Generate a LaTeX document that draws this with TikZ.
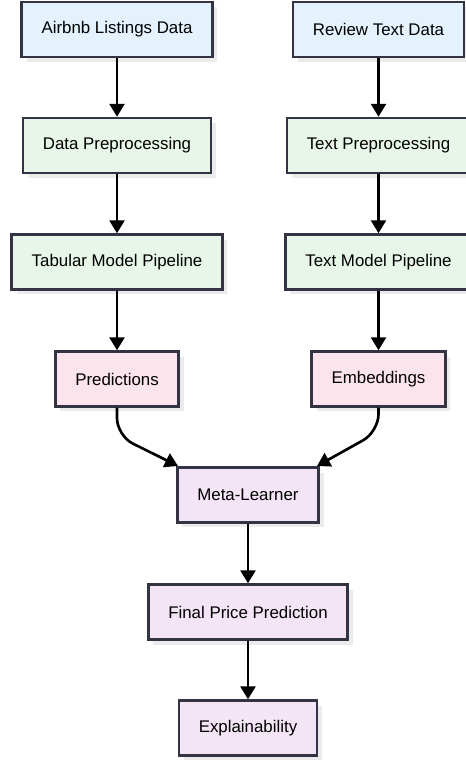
\documentclass[tikz,border=0pt]{standalone}
\usepackage{fontspec}
\setmainfont{Liberation Sans}
\usetikzlibrary{arrows.meta, shadows}

\definecolor{edgegray}{RGB}{51,51,68}
\definecolor{srcblue}{HTML}{E3F2FD}
\definecolor{prepgreen}{HTML}{E8F5E9}
\definecolor{outpink}{HTML}{FCE4EC}
\definecolor{metapurple}{HTML}{F3E5F5}

\tikzset{
  box/.style={draw=edgegray, line width=1.4pt, minimum height=1.1cm,
    inner xsep=0.4cm, font=\fontsize{9.6}{11}\selectfont,
    drop shadow={shadow xshift=0.1cm, shadow yshift=-0.1cm,
      fill=black!8, opacity=1}},
  source/.style={box, fill=srcblue},
  stage/.style={box, fill=prepgreen},
  output/.style={box, fill=outpink},
  meta/.style={box, fill=metapurple},
  flow/.style={-{Triangle[length=0.26cm, width=0.3cm]}, line width=1.5pt}
}

\begin{document}
\begin{tikzpicture}[x=0.02cm, y=-0.02cm]
  \useasboundingbox (0,0) rectangle (466,760);

  \node[source] (listings) at (117, 29.5) {Airbnb Listings Data};
  \node[source] (reviews)  at (378.5, 29.5) {Review Text Data};
  \node[stage] (dataprep)  at (117, 145.5) {Data Preprocessing};
  \node[stage] (textprep)  at (378.5, 145.5) {Text Preprocessing};
  \node[stage] (tabular)   at (117, 262) {Tabular Model Pipeline};
  \node[stage] (textmodel) at (378.5, 262) {Text Model Pipeline};
  \node[output] (preds)    at (117, 379) {Predictions};
  \node[output] (embed)    at (378.5, 379) {Embeddings};
  \node[meta] (learner)    at (248, 495) {Meta-Learner};
  \node[meta] (final)      at (248, 612) {Final Price Prediction};
  \node[meta] (explain)    at (248, 728) {Explainability};

  \coordinate (inL) at (178, 466);
  \coordinate (inR) at (317, 466);

  \draw[flow] (listings) -- (dataprep);
  \draw[flow] (dataprep) -- (tabular);
  \draw[flow] (tabular) -- (preds);
  \draw[flow] (reviews) -- (textprep);
  \draw[flow] (textprep) -- (textmodel);
  \draw[flow] (textmodel) -- (embed);
  \draw[flow, rounded corners=10] (preds.south) -- ++(0,28) -- (inL);
  \draw[flow, rounded corners=10] (embed.south) -- ++(0,24) -- (inR);
  \draw[flow] (learner) -- (final);
  \draw[flow] (final) -- (explain);
\end{tikzpicture}
\end{document}
